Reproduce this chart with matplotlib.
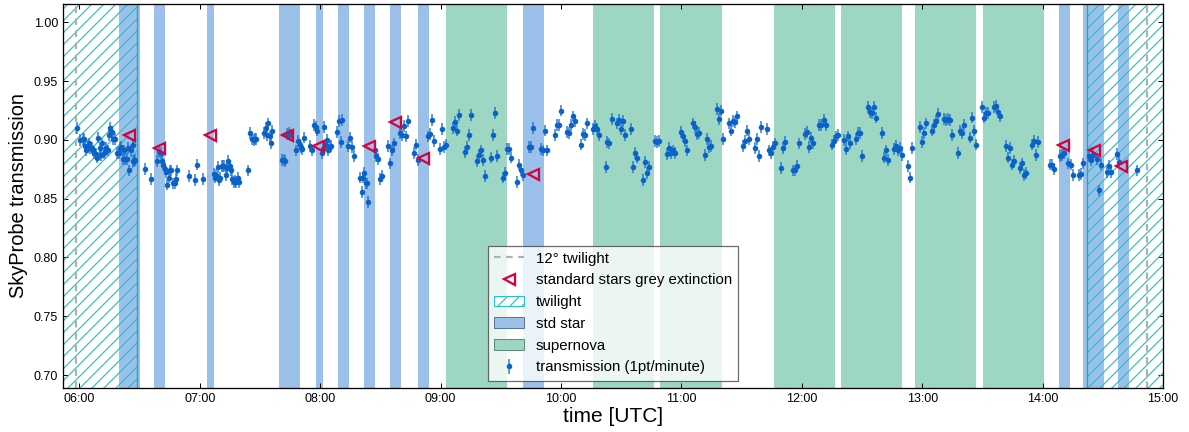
"""SkyProbe transmission over the night with std star / supernova / twilight windows"""
import matplotlib.pyplot as plt
import matplotlib.patches as patches
from matplotlib.lines import Line2D
from matplotlib.ticker import FuncFormatter, MultipleLocator
import numpy as np

plt.rcParams['font.family'] = ['Liberation Sans', 'DejaVu Sans']
plt.rcParams['hatch.linewidth'] = 1.2

# SkyProbe samples: minutes after 00:00 UTC, transmission
minutes = [
    358.8, 360.5, 361.5, 362.1, 362.8, 363.4, 364.1, 364.8, 365.4, 366.1,
    366.8, 367.4, 368.1, 368.8, 369.4, 370.1, 370.8, 371.4, 372.1, 372.8,
    373.4, 374.1, 374.8, 375.4, 376.1, 376.8, 377.8, 378.8, 379.5, 380.1,
    380.8, 381.5, 382.1, 382.8, 383.5, 384.1, 384.8, 385.8, 386.5, 386.8,
    387.1, 387.8, 392.8, 395.8, 398.8, 399.8, 400.5, 401.1, 401.8, 402.5,
    403.1, 403.8, 404.5, 405.1, 405.8, 406.8, 407.5, 408.1, 408.8, 414.8,
    417.8, 418.8, 421.8, 426.8, 427.5, 428.1, 428.8, 429.5, 430.1, 430.8,
    431.5, 432.1, 432.8, 433.5, 434.1, 434.8, 435.5, 436.1, 436.8, 437.5,
    438.1, 438.8, 439.5, 444.1, 445.1, 446.1, 446.8, 447.5, 448.1, 451.8,
    452.8, 453.5, 454.1, 454.8, 455.5, 456.1, 461.1, 461.8, 462.5, 463.5,
    464.5, 465.1, 468.1, 469.1, 469.8, 470.5, 471.1, 472.1, 475.1, 476.1,
    477.1, 477.8, 478.5, 481.1, 481.5, 482.1, 482.8, 483.5, 484.1, 484.8,
    485.5, 488.1, 489.5,
    490.2, 490.7, 493.6, 494.6, 495.6, 496.6, 499.6, 500.6, 501.2, 501.9,
    502.6, 503.2, 503.9, 507.2, 507.9, 508.6, 509.9, 510.9, 513.9, 514.9,
    515.9, 516.6, 519.9, 520.9, 521.9, 522.9, 523.9, 526.9, 527.9, 528.9,
    533.6, 534.6, 535.9, 536.9, 539.9, 540.9, 541.9, 542.9, 545.9, 546.9,
    547.9, 548.9, 551.9, 552.9, 553.9, 554.9, 557.9, 558.9, 559.9, 560.9,
    561.9, 564.9, 565.9, 566.9, 567.9, 570.9, 571.9, 572.9, 573.9, 574.9,
    577.9, 578.9, 579.9, 580.9, 583.9, 584.9, 585.9, 589.9, 590.9, 591.9,
    592.9, 596.9, 597.9, 598.9, 599.9, 602.9, 603.9, 604.9, 605.9, 606.9,
    609.9, 610.9, 611.9, 612.9, 615.9, 616.9, 617.9, 618.9, 622.2, 622.9,
    623.9, 625.2,
    627.9, 628.8, 629.8, 630.8, 631.8, 634.8, 635.8, 636.8, 637.8, 640.8,
    641.8, 642.8, 643.8, 646.8, 647.8, 648.8, 652.8, 653.8, 654.8, 655.8,
    656.8, 659.8, 660.8, 661.8, 662.8, 665.8, 666.8, 667.8, 668.8, 671.8,
    672.8, 673.8, 674.8, 677.8, 678.8, 679.8, 680.8, 683.8, 684.8, 685.8,
    686.8, 687.8, 690.8, 691.8, 692.8, 693.8, 696.8, 697.8, 698.8, 699.8,
    702.8, 703.8, 704.8, 705.8, 706.8, 709.8, 710.8, 711.8, 715.8, 716.8,
    717.8, 718.8, 721.8, 722.8, 723.8, 724.8, 725.8, 728.8, 729.8, 730.8,
    731.8, 734.8, 735.8, 736.8, 737.8, 740.8, 741.8, 742.8, 743.8, 746.8,
    747.8, 748.8, 749.8, 752.8, 753.8, 754.8, 755.8, 756.8, 759.8, 760.8,
    761.8, 762.8,
    765.9, 766.9, 767.9, 768.9, 769.9, 772.9, 773.9, 774.9, 778.9, 779.9,
    780.9, 781.9, 784.9, 785.9, 786.9, 787.9, 790.9, 791.9, 792.9, 793.9,
    794.9, 797.9, 798.9, 799.9, 800.9, 803.9, 804.9, 805.9, 806.9, 809.9,
    810.9, 811.9, 812.9, 815.9, 816.9, 817.9, 818.9, 821.9, 822.9, 823.9,
    824.9, 825.9, 828.9, 829.9, 830.9, 831.9, 834.9, 835.9, 836.9, 837.9,
    843.9, 844.9, 845.9, 848.9, 849.9, 850.9, 852.9, 853.9, 854.9, 857.9,
    858.9, 859.9, 862.9, 863.9, 864.9, 866.9, 867.9, 868.9, 871.9, 872.9,
    873.9, 876.9, 877.9, 886.9,
]
transmission = [
    0.910, 0.900, 0.901, 0.901, 0.895, 0.891, 0.894, 0.897, 0.893, 0.893,
    0.891, 0.889, 0.888, 0.885, 0.902, 0.893, 0.887, 0.897, 0.889, 0.890,
    0.893, 0.891, 0.904, 0.910, 0.907, 0.901, 0.901, 0.889, 0.889, 0.893,
    0.894, 0.884, 0.891, 0.884, 0.884, 0.893, 0.874, 0.891, 0.882, 0.896,
    0.882, 0.883, 0.875, 0.867, 0.882, 0.890, 0.889, 0.882, 0.879, 0.875,
    0.873, 0.862, 0.868, 0.874, 0.874, 0.863, 0.863, 0.867, 0.874, 0.869,
    0.866, 0.879, 0.867, 0.871, 0.868, 0.870, 0.877, 0.866, 0.868, 0.878,
    0.878, 0.878, 0.870, 0.876, 0.882, 0.878, 0.874, 0.867, 0.864, 0.865,
    0.864, 0.868, 0.864, 0.874, 0.906, 0.901, 0.900, 0.901, 0.901, 0.906,
    0.910, 0.904, 0.914, 0.903, 0.897, 0.908, 0.883, 0.883, 0.882, 0.905,
    0.906, 0.904, 0.891, 0.899, 0.896, 0.894, 0.892, 0.902, 0.895, 0.891,
    0.913, 0.911, 0.908, 0.889, 0.892, 0.911, 0.896, 0.900, 0.891, 0.894,
    0.895, 0.907, 0.916,
    0.898, 0.917, 0.895, 0.902, 0.894, 0.886, 0.868, 0.856, 0.868, 0.872,
    0.863, 0.863, 0.847, 0.891, 0.886, 0.884, 0.867, 0.869, 0.895, 0.880,
    0.891, 0.897, 0.906, 0.904, 0.912, 0.903, 0.916, 0.889, 0.896, 0.883,
    0.903, 0.905, 0.917, 0.899, 0.892, 0.909, 0.894, 0.896, 0.910, 0.915,
    0.908, 0.921, 0.890, 0.894, 0.904, 0.921, 0.882, 0.887, 0.891, 0.883,
    0.869, 0.885, 0.904, 0.923, 0.886, 0.868, 0.872, 0.892, 0.892, 0.885,
    0.864, 0.879, 0.874, 0.870, 0.894, 0.894, 0.910, 0.892, 0.891, 0.908,
    0.891, 0.904, 0.913, 0.913, 0.925, 0.907, 0.906, 0.913, 0.920, 0.916,
    0.896, 0.905, 0.904, 0.914, 0.909, 0.912, 0.909, 0.904, 0.877, 0.898,
    0.897, 0.918,
    0.914, 0.917, 0.909, 0.916, 0.904, 0.909, 0.877, 0.889, 0.885, 0.866,
    0.881, 0.872, 0.877, 0.899, 0.898, 0.899, 0.888, 0.893, 0.889, 0.891,
    0.889, 0.907, 0.903, 0.899, 0.891, 0.914, 0.911, 0.905, 0.906, 0.887,
    0.901, 0.894, 0.895, 0.926, 0.918, 0.925, 0.901, 0.914, 0.908, 0.916,
    0.915, 0.920, 0.895, 0.899, 0.908, 0.901, 0.893, 0.901, 0.886, 0.911,
    0.909, 0.891, 0.889, 0.894, 0.897, 0.876, 0.893, 0.898, 0.874, 0.874,
    0.878, 0.897, 0.905, 0.907, 0.894, 0.902, 0.897, 0.913, 0.913, 0.917,
    0.913, 0.896, 0.899, 0.903, 0.904, 0.900, 0.892, 0.903, 0.897, 0.901,
    0.906, 0.906, 0.886, 0.928, 0.924, 0.923, 0.928, 0.919, 0.906, 0.885,
    0.891, 0.883,
    0.892, 0.895, 0.891, 0.893, 0.887, 0.878, 0.868, 0.893, 0.911, 0.898,
    0.906, 0.914, 0.908, 0.913, 0.916, 0.922, 0.918, 0.917, 0.918, 0.917,
    0.904, 0.889, 0.908, 0.906, 0.913, 0.902, 0.919, 0.908, 0.896, 0.928,
    0.919, 0.923, 0.923, 0.928, 0.929, 0.924, 0.920, 0.895, 0.885, 0.893,
    0.879, 0.882, 0.876, 0.880, 0.870, 0.872, 0.896, 0.899, 0.887, 0.898,
    0.879, 0.879, 0.875, 0.886, 0.887, 0.889, 0.880, 0.879, 0.870, 0.870,
    0.871, 0.880, 0.886, 0.883, 0.887, 0.884, 0.857, 0.879, 0.873, 0.878,
    0.873, 0.888, 0.881, 0.874,
]
trans_err = 0.005

# standard star grey extinction (hours UTC)
ext_hours = [6.414, 6.663, 7.085, 7.727, 7.985, 8.401, 8.617, 8.853, 9.767,
             14.170, 14.423, 14.655]
ext_values = [0.904, 0.893, 0.904, 0.904, 0.895, 0.895, 0.915, 0.885, 0.871,
              0.896, 0.891, 0.878]

# observing windows (hours UTC)
std_start = [6.328, 6.619, 7.060, 7.658, 7.966, 8.149, 8.365, 8.581, 8.814,
             9.687, 14.134, 14.334, 14.625]
std_end = [6.503, 6.708, 7.115, 7.833, 8.024, 8.240, 8.456, 8.670, 8.905,
           9.861, 14.225, 14.509, 14.717]
sn_start = [9.047, 10.269, 10.826, 11.765, 12.322, 12.937, 13.502]
sn_end = [9.554, 10.776, 11.333, 12.272, 12.829, 13.444, 14.009]
twilight_start = [5.5, 14.369]
twilight_end = [6.475, 15.5]
twelve_deg = [5.973, 14.871]

STD_COLOR = '#9bc1ea'
SN_COLOR = '#9dd6c3'
TWI_COLOR = '#22c4cc'
PT_COLOR = '#0a62c8'
EXT_COLOR = '#d2063f'
ERR_COLOR = (0.12, 0.45, 0.82, 0.7)

fig = plt.figure(figsize=(1189 / 72, 432 / 72), dpi=72)
ax = fig.add_axes([63 / 1189, 44 / 432, 1100 / 1189, 384 / 432])

for s, e in zip(std_start, std_end):
    ax.axvspan(s, e, facecolor=STD_COLOR, lw=0, zorder=1)
for s, e in zip(sn_start, sn_end):
    ax.axvspan(s, e, facecolor=SN_COLOR, lw=0, zorder=1)
for s, e in zip(twilight_start, twilight_end):
    ax.axvspan(s, e, facecolor='none', edgecolor=TWI_COLOR, hatch='//',
               lw=0, zorder=2)
    # solid edge where twilight meets the night
    ax.axvline(e if s < 6 else s, color='#1aa3c8', lw=1.3, zorder=2)

for t in twelve_deg:
    ax.axvline(t, color='#b0b0b0', ls='--', lw=2.2, dashes=(3, 2.5), zorder=2)

hours = np.array(minutes) / 60.0
ax.errorbar(hours, transmission, yerr=trans_err, fmt='o', ms=4.5,
            color=PT_COLOR, ecolor=ERR_COLOR, elinewidth=2,
            capsize=0, zorder=4)
ax.plot(ext_hours, ext_values, '<', ms=11, mfc='none', mec=EXT_COLOR, mew=2.3,
        zorder=5)

ax.set_xlim(5.863, 15.0)
ax.set_ylim(0.689, 1.0156)
ax.xaxis.set_major_locator(MultipleLocator(1))
ax.xaxis.set_major_formatter(FuncFormatter(lambda v, p: f'{int(round(v)):02d}:00'))
ax.yaxis.set_major_locator(MultipleLocator(0.05))
ax.yaxis.set_major_formatter(FuncFormatter(lambda v, p: f'{v:.2f}'))
ax.tick_params(direction='in', top=True, right=True, length=5, width=1,
               labelsize=12.5, pad=5)
for sp in ax.spines.values():
    sp.set_linewidth(1.3)

ax.set_xlabel('time [UTC]', fontsize=21, labelpad=2)
ax.set_ylabel('SkyProbe transmission', fontsize=20, labelpad=6)

handles = [
    Line2D([], [], color='#b0b0b0', ls='--', lw=2.2, dashes=(3, 2.5)),
    Line2D([], [], marker='<', ls='none', ms=11, mfc='none', mec=EXT_COLOR, mew=2.3),
    patches.Patch(facecolor='white', edgecolor=TWI_COLOR, hatch='//'),
    patches.Patch(facecolor=STD_COLOR, edgecolor='#5d7896'),
    patches.Patch(facecolor=SN_COLOR, edgecolor='#5e8a7c'),
    ax.errorbar([], [], yerr=[], fmt='o', ms=4.5, color=PT_COLOR,
                ecolor=ERR_COLOR, elinewidth=2),
]
labels = ['12° twilight', 'standard stars grey extinction', 'twilight',
          'std star', 'supernova', 'transmission (1pt/minute)']
leg = ax.legend(handles, labels, loc='lower center', fontsize=15,
                labelspacing=0.52, fancybox=False, framealpha=0.8,
                edgecolor='#444444')
leg.get_frame().set_linewidth(1.2)

plt.savefig('out.png', dpi=72)
plt.close()
